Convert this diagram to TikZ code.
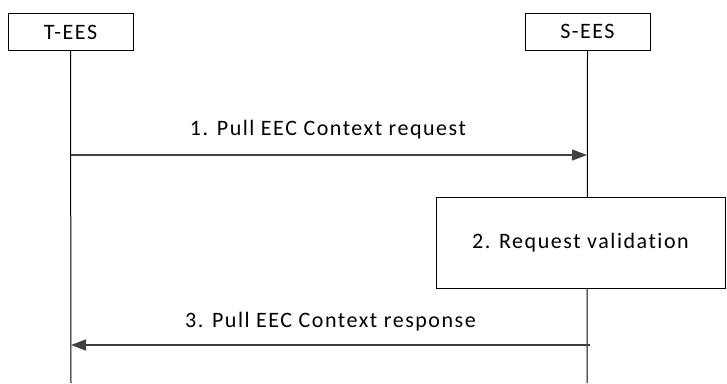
\documentclass[tikz,border=0pt]{standalone}
\usepackage{fontspec}
\setmainfont{Carlito}[LetterSpace=7,Ligatures={NoCommon}]
\usetikzlibrary{arrows.meta}
\begin{document}
\begin{tikzpicture}[x=1pt,y=-1pt,
  actor/.style={draw=black,line width=1pt,minimum width=125pt,minimum height=37pt,inner sep=0pt,font=\fontsize{22}{25}\selectfont},
  procbox/.style={draw=black,line width=1pt,minimum width=289pt,minimum height=91pt,inner sep=0pt,font=\fontsize{22}{25}\selectfont,fill=white},
  life/.style={draw=black,line width=1pt},
  msg/.style={draw=black!75,line width=1.3pt,-{Triangle[length=15pt,width=11pt]}},
  lbl/.style={font=\fontsize{22}{25}\selectfont}]
\useasboundingbox (0,0) rectangle (727,383);
\node[actor] (T) at (70.5,32) {T-EES};
\node[actor] (S) at (587.5,31.5) {S-EES};
\coordinate (Tend) at (71,383);
\coordinate (Send) at (587,383);
\draw[life] (T.south) -- (Tend);
\draw[life] (S.south) -- (Send);
\node[procbox] (V) at (580.5,242.5) {2. Request validation};
\coordinate (m1s) at (71,155);
\coordinate (m1e) at (587,155);
\draw[msg] (m1s) -- (m1e) node[lbl,midway,above=12pt,xshift=-1pt] (l1) {1. Pull EEC Context request};
\coordinate (m3s) at (590,345);
\coordinate (m3e) at (71,345);
\draw[msg] (m3s) -- (m3e) node[lbl,midway,above=10pt] (l3) {3. Pull EEC Context response};
\end{tikzpicture}
\end{document}
